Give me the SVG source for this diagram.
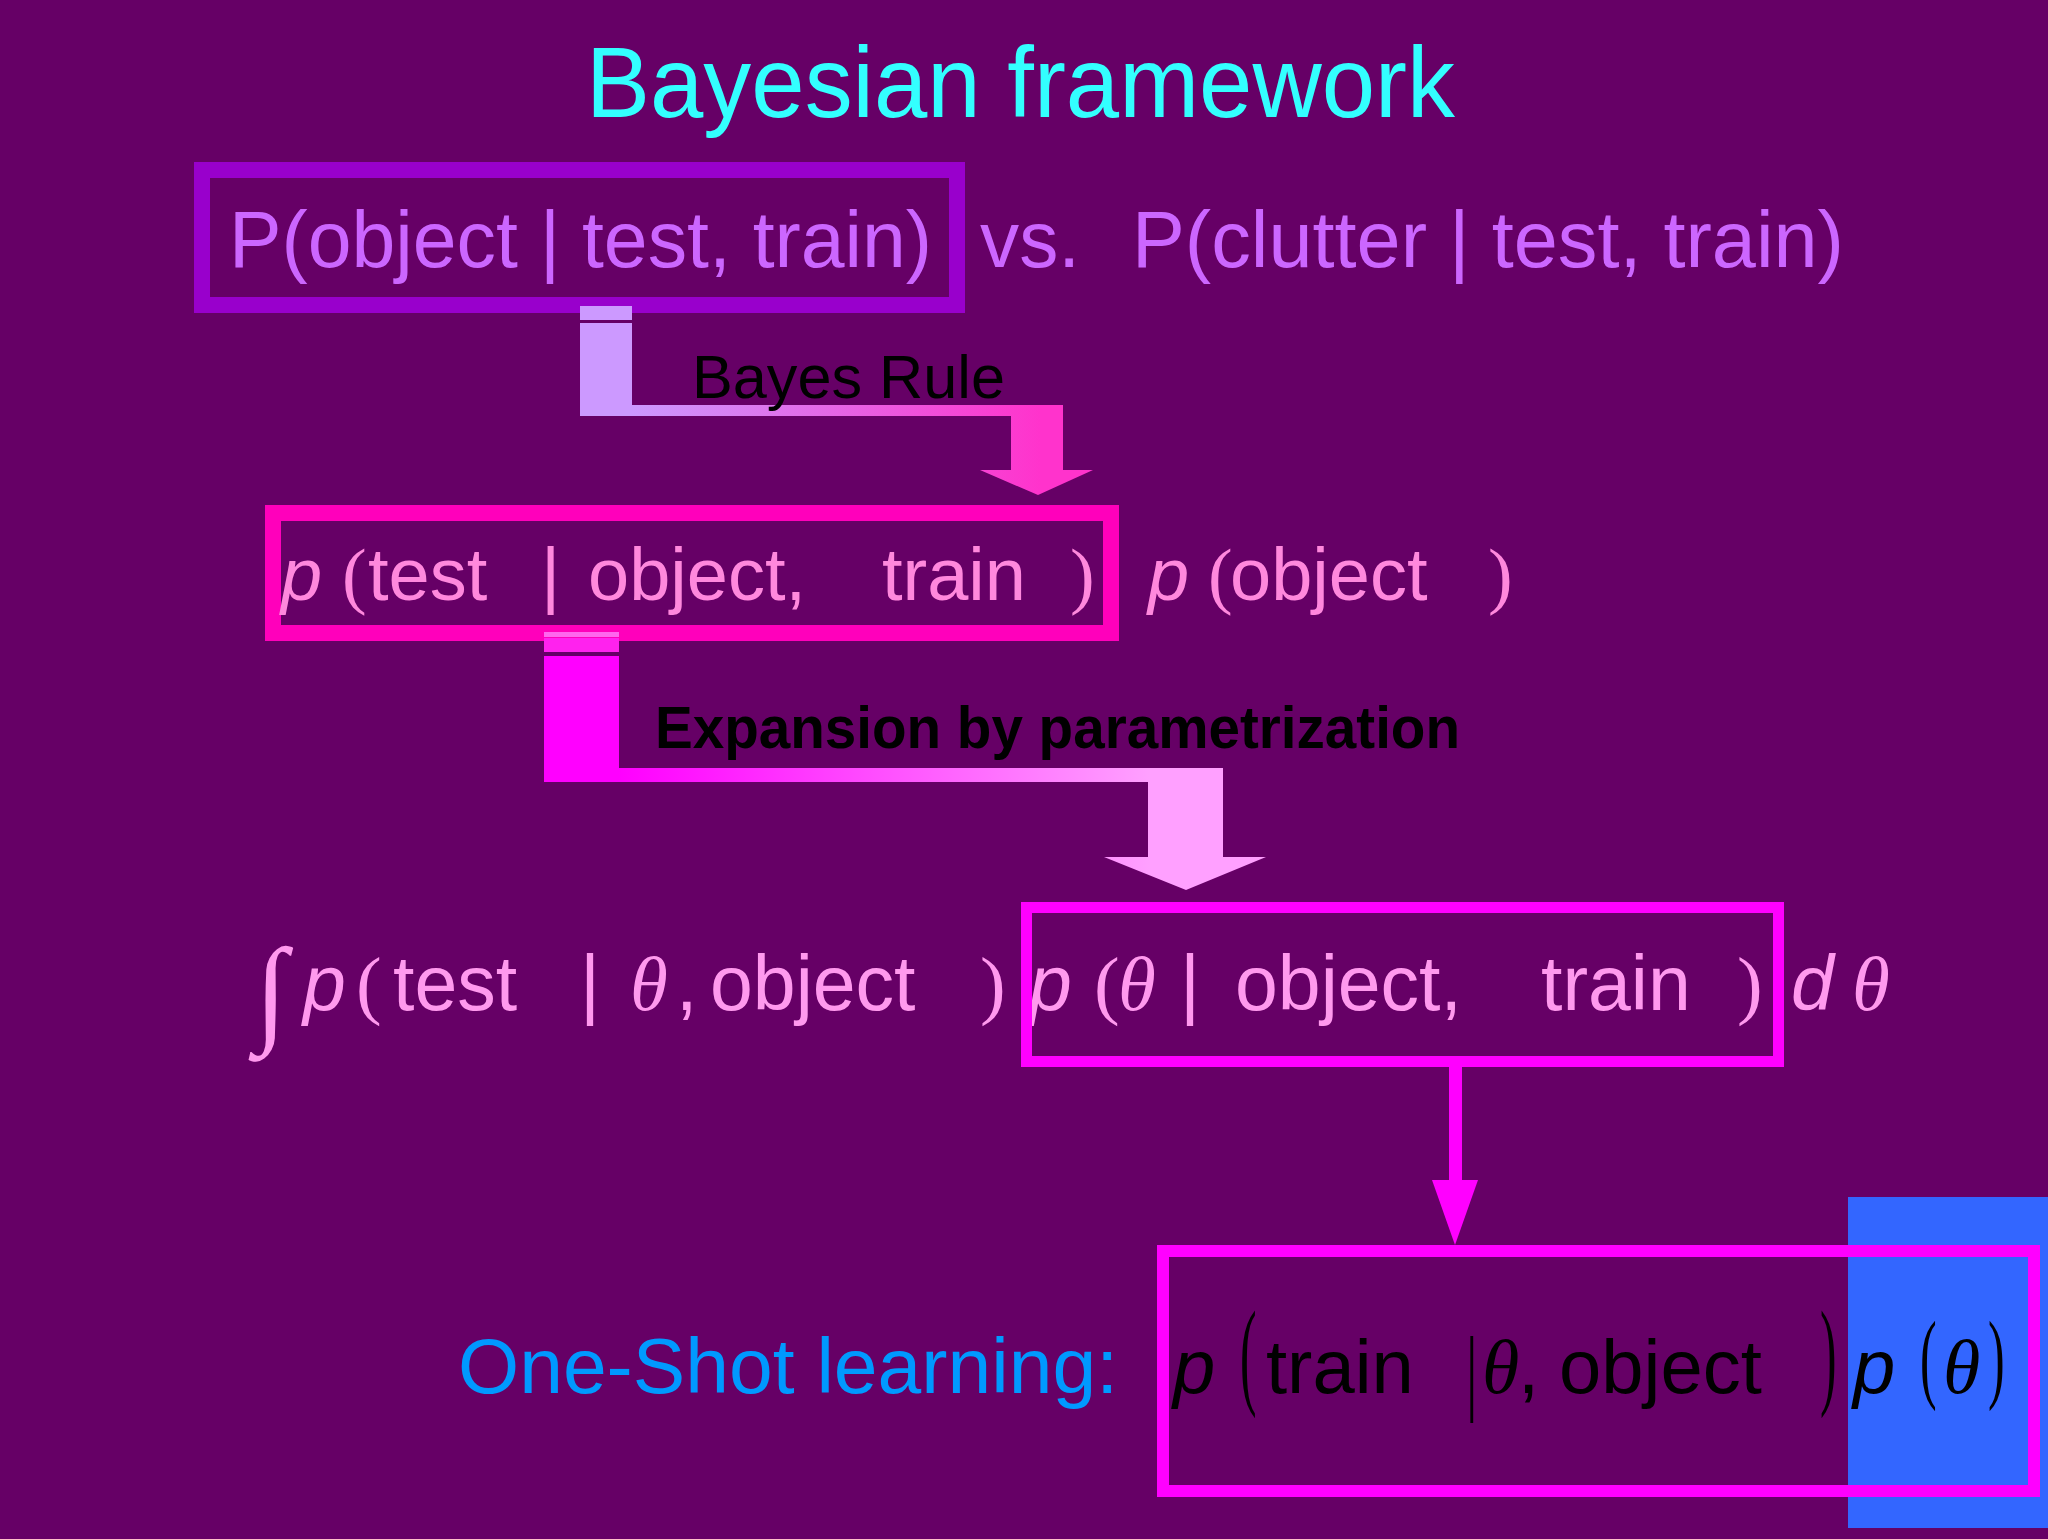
<svg xmlns="http://www.w3.org/2000/svg" width="2048" height="1539" viewBox="0 0 2048 1539">
<defs>
<linearGradient id="g1" gradientUnits="userSpaceOnUse" x1="632" y1="0" x2="1040" y2="0">
<stop offset="0" stop-color="#CC99FF"/><stop offset="1" stop-color="#FF33CC"/>
</linearGradient>
<linearGradient id="g2" gradientUnits="userSpaceOnUse" x1="619" y1="0" x2="1150" y2="0">
<stop offset="0" stop-color="#FF00FF"/><stop offset="1" stop-color="#FFA0FF"/>
</linearGradient>
<style>
.s{font-family:"Liberation Sans",Arial,sans-serif}
.r{font-family:"Liberation Serif","Times New Roman",serif}
.i{font-style:italic}
.box{fill:none}
</style>
</defs>
<rect width="2048" height="1539" fill="#660066"/>

<g id="title">
<text class="s" x="586" y="117" font-size="100" fill="#33FFFF" textLength="869" lengthAdjust="spacingAndGlyphs">Bayesian framework</text>
</g>

<g id="node-posterior">
<rect class="box" x="202" y="170" width="755" height="135" stroke="#9900CC" stroke-width="16"/>
<text class="s" x="229" y="267" font-size="80" fill="#CC66FF" textLength="703" lengthAdjust="spacingAndGlyphs">P(object | test, train)</text>
</g>
<g id="vs-text">
<text class="s" x="980" y="267" font-size="80" fill="#CC66FF" textLength="100" lengthAdjust="spacingAndGlyphs">vs.</text>
<text class="s" x="1132" y="267" font-size="80" fill="#CC66FF" textLength="712" lengthAdjust="spacingAndGlyphs">P(clutter | test, train)</text>
</g>

<g id="node-bayes">
<rect class="box" x="273" y="513" width="838" height="120" stroke="#FF00BB" stroke-width="16"/>
<text class="s" y="600" font-size="74" fill="#FF88DD"><tspan class="i" x="281">p</tspan><tspan class="r" x="342">(</tspan><tspan x="368">test</tspan><tspan x="541">|</tspan><tspan x="588">object,</tspan><tspan x="882">train</tspan><tspan class="r" x="1070">)</tspan><tspan class="i" x="1148">p</tspan><tspan class="r" x="1208">(</tspan><tspan x="1230">object</tspan><tspan class="r" x="1488">)</tspan></text>
</g>

<g id="node-integral">
<text class="r" x="255" y="1030" font-size="118" fill="#FF99EE">∫</text>
<text class="s" y="1010" font-size="77" fill="#FF99EE"><tspan class="i" x="303">p</tspan><tspan class="r" x="356">(</tspan><tspan x="393">test</tspan><tspan x="580">|</tspan><tspan class="r i" x="630">θ</tspan><tspan x="676">,</tspan><tspan x="710">object</tspan><tspan class="r" x="980">)</tspan><tspan class="i" x="1029">p</tspan><tspan class="r" x="1094">(</tspan><tspan class="r i" x="1118">θ</tspan><tspan x="1180">|</tspan><tspan x="1235">object,</tspan><tspan x="1541">train</tspan><tspan class="r" x="1737">)</tspan><tspan class="i" x="1791">d</tspan><tspan class="r i" x="1852">θ</tspan></text>
</g>
<g id="node-theta-posterior">
<rect class="box" x="1026.5" y="907.5" width="752" height="154" stroke="#FF00FF" stroke-width="11"/>
</g>

<g id="label-oneshot">
<text class="s" x="458" y="1393" font-size="78" fill="#0099FF" textLength="660" lengthAdjust="spacingAndGlyphs">One-Shot learning:</text>
</g>

<g id="node-oneshot">
<rect x="1848" y="1197" width="200" height="331" fill="#3366FF"/>
<rect class="box" x="1163" y="1251" width="871" height="240" stroke="#FF00FF" stroke-width="12"/>
<text class="s" y="1393" font-size="76" fill="#000000"><tspan class="i" x="1173">p</tspan><tspan x="1266">train</tspan><tspan class="r i" x="1482">θ</tspan><tspan x="1518">,</tspan><tspan x="1559">object</tspan><tspan class="i" x="1853">p</tspan><tspan class="r i" x="1943">θ</tspan></text>
<text class="r" transform="translate(1240,1393) scale(0.42,1)" font-size="118" fill="#000000">(</text>
<text class="r" transform="translate(1820,1393) scale(0.42,1)" font-size="118" fill="#000000">)</text>
<text class="r" transform="translate(1920,1390) scale(0.5,1)" font-size="100" fill="#000000">(</text>
<text class="r" transform="translate(1988,1390) scale(0.5,1)" font-size="100" fill="#000000">)</text>
<text class="r" transform="translate(1466,1403) scale(0.6,1)" font-size="96" fill="#000000">|</text>
</g>

<g id="connectors">
<rect x="580" y="306" width="52" height="14" fill="#CC99FF"/>
<polygon points="580,323 632,323 632,405 1063,405 1063,470 1093,470 1038,495 980,470 1011,470 1011,416 580,416" fill="url(#g1)"/>
<text class="s" x="692" y="398" font-size="62" fill="#000000" textLength="313" lengthAdjust="spacingAndGlyphs">Bayes Rule</text>
<rect x="544" y="632" width="75" height="5" fill="#FF66EE"/>
<rect x="544" y="638" width="75" height="14" fill="#FF22EE"/>
<polygon points="544,656 619,656 619,768 1223,768 1223,857 1266,857 1186,890 1104,857 1148,857 1148,782 544,782" fill="url(#g2)"/>
<text class="s" x="655" y="748" font-size="60" font-weight="bold" fill="#000000" textLength="805" lengthAdjust="spacingAndGlyphs">Expansion by parametrization</text>
<rect x="1449" y="1067" width="13" height="115" fill="#FF00FF"/>
<polygon points="1432,1180 1478,1180 1455,1245" fill="#FF00FF"/>
</g>
</svg>
